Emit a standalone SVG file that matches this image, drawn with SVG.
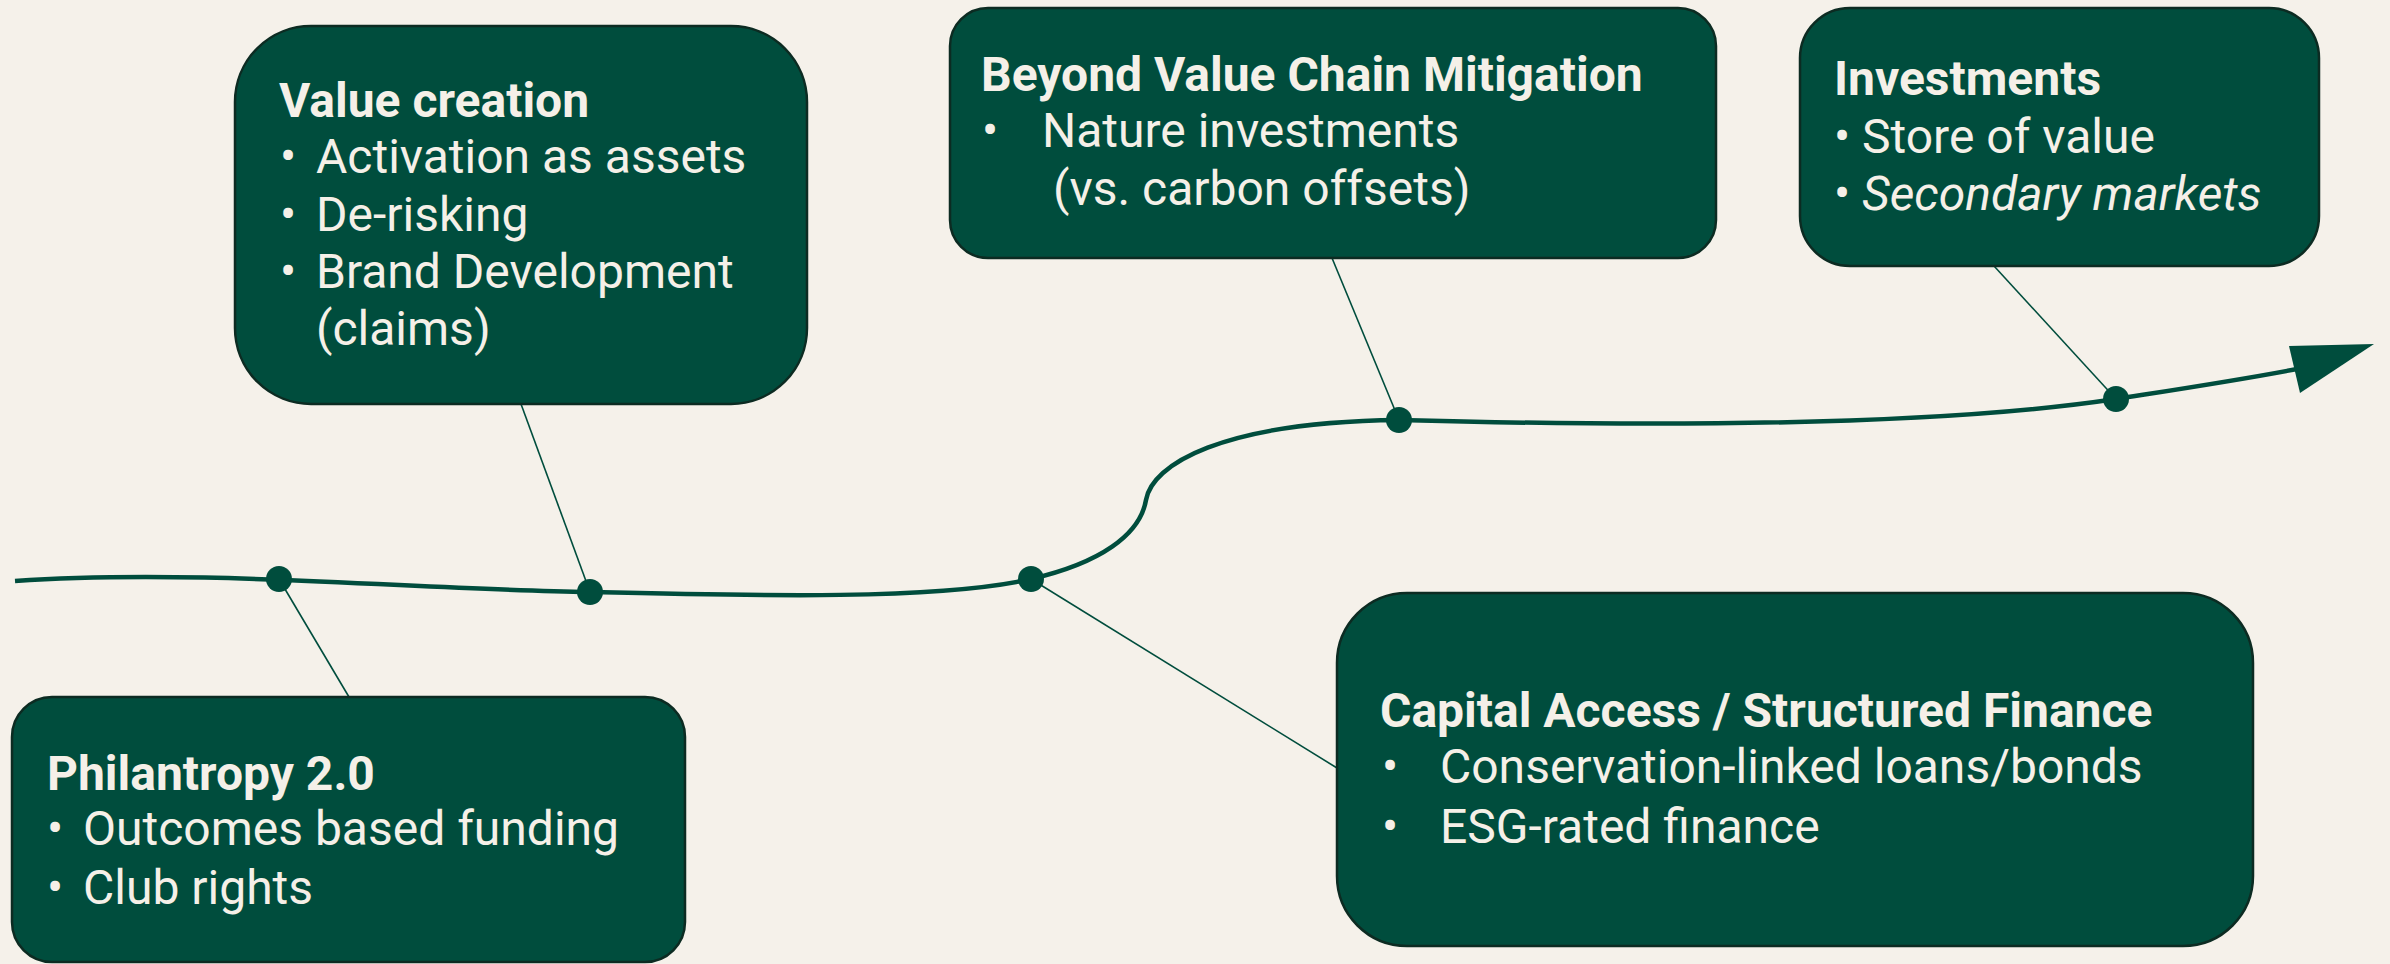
<svg xmlns="http://www.w3.org/2000/svg" width="2390" height="964" viewBox="0 0 2390 964">
<style>
.box{fill:#004d3d;stroke:#0c2b22;stroke-width:2.5}
.t{font-family:Roboto,"Liberation Sans",sans-serif;font-size:48px;fill:#f5f0e8}
.b{font-weight:bold}
.i{font-style:italic}
.main{fill:none;stroke:#004d3d;stroke-width:4.5}
.thin{fill:none;stroke:#004d3d;stroke-width:1.6}
.dot{fill:#004d3d}
</style>
<rect width="2390" height="964" fill="#f5f1ea"/>
<g id="connectors">
<path class="main" d="M15,581 C200,568 420,590 590,592 C760,596 940,600 1031,579 C1100,563 1140,535 1146,500 C1152,465 1220,422 1399,420 C1700,428 1950,424 2116,399 C2180,389 2240,380 2297,369"/>
<polygon class="dot" points="2289,346 2374,344 2300,393"/>
<line class="thin" x1="279" y1="579" x2="349" y2="697"/>
<line class="thin" x1="521" y1="404" x2="590" y2="592"/>
<line class="thin" x1="1031" y1="579" x2="1337" y2="768"/>
<line class="thin" x1="1332" y1="258" x2="1399" y2="420"/>
<line class="thin" x1="1994" y1="266" x2="2116" y2="399"/>
<circle class="dot" cx="279" cy="579" r="13"/>
<circle class="dot" cx="590" cy="592" r="13"/>
<circle class="dot" cx="1031" cy="579" r="13"/>
<circle class="dot" cx="1399" cy="420" r="13"/>
<circle class="dot" cx="2116" cy="399" r="13"/>
</g>
<g id="value-creation">
<rect class="box" x="235" y="26" width="572" height="378" rx="76"/>
<text class="t b" x="279" y="117">Value creation</text>
<text class="t" x="280" y="173">•</text><text class="t" x="316" y="173">Activation as assets</text>
<text class="t" x="280" y="231">•</text><text class="t" x="316" y="231">De-risking</text>
<text class="t" x="280" y="288">•</text><text class="t" x="316" y="288">Brand Development</text>
<text class="t" x="316" y="345">(claims)</text>
</g>
<g id="beyond-value-chain">
<rect class="box" x="950" y="8" width="766" height="250" rx="38"/>
<text class="t b" x="981" y="91">Beyond Value Chain Mitigation</text>
<text class="t" x="982" y="147">•</text><text class="t" x="1042" y="147">Nature investments</text>
<text class="t" x="1053" y="205">(vs. carbon offsets)</text>
</g>
<g id="investments">
<rect class="box" x="1800" y="8" width="519" height="258" rx="50"/>
<text class="t b" x="1834" y="95">Investments</text>
<text class="t" x="1834" y="153">•</text><text class="t" x="1862" y="153">Store of value</text>
<text class="t" x="1834" y="210">•</text><text class="t i" x="1862" y="210">Secondary markets</text>
</g>
<g id="philantropy">
<rect class="box" x="12" y="697" width="673" height="265" rx="40"/>
<text class="t b" x="47" y="790">Philantropy 2.0</text>
<text class="t" x="47" y="845">•</text><text class="t" x="83" y="845">Outcomes based funding</text>
<text class="t" x="47" y="904">•</text><text class="t" x="83" y="904">Club rights</text>
</g>
<g id="capital-access">
<rect class="box" x="1337" y="593" width="916" height="353" rx="70"/>
<text class="t b" x="1380" y="727">Capital Access / Structured Finance</text>
<text class="t" x="1382" y="783">•</text><text class="t" x="1440" y="783">Conservation-linked loans/bonds</text>
<text class="t" x="1382" y="843">•</text><text class="t" x="1440" y="843">ESG-rated finance</text>
</g>
</svg>
